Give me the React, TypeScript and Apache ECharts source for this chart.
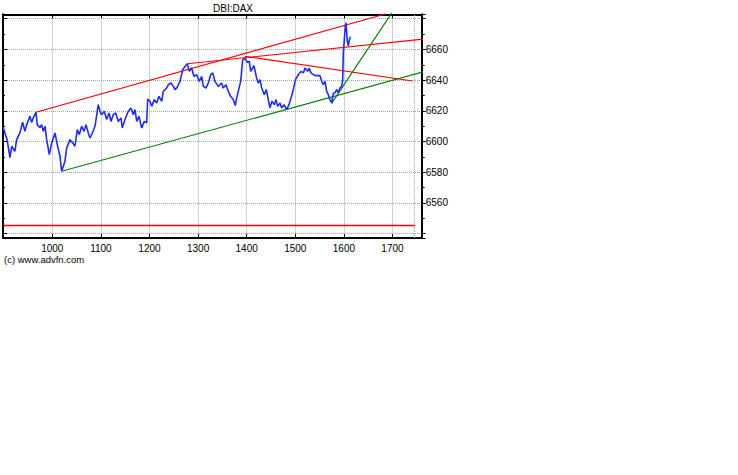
import React, { useEffect, useRef } from "react";
import * as echarts from "echarts";

const priceX = [
  899, 907, 913, 916.5, 923, 926.7, 933.5, 939, 943.7, 947.3, 954, 957.6, 961, 966.5, 969, 974.7, 978, 981.5, 985, 988.5,
  993.8, 998.8, 1005.6, 1010.3, 1015.8, 1019.3, 1026.1, 1029.6, 1036.4, 1042, 1046.7, 1051.4, 1055.6, 1060.5, 1065.2,
  1069.3, 1074, 1077.6, 1083, 1087.9, 1094.6, 1098.1, 1101.6, 1107, 1111.9, 1116.7, 1120.8, 1125.5, 1130.5, 1135.8,
  1141.4, 1144, 1149.6, 1156.4, 1161.9, 1166.7, 1170.2, 1173.7, 1178.4, 1184, 1189.3, 1194.2, 1196.3, 1201, 1204.5,
  1209.9, 1214.8, 1219.5, 1225.1, 1228.4, 1235.4, 1238.7, 1244.2, 1249, 1252.5, 1256.6, 1262.8, 1268.3, 1273.1, 1277.8,
  1281.9, 1286.8, 1291.6, 1297.1, 1302.5, 1307.4, 1310.7, 1316.3, 1321, 1325.9, 1330, 1334.8, 1341.6, 1348.6, 1351.8,
  1357.4, 1362.1, 1367.1, 1372.4, 1376.5, 1379.4, 1382.7, 1387.6, 1391.8, 1396.5, 1401.2, 1405.3, 1408.2, 1412.3, 1415,
  1420.2, 1423.9, 1427.4, 1430.9, 1436.2, 1440.3, 1444.4, 1447.9, 1452, 1456.8, 1460.3, 1463.8, 1468.5, 1472, 1476.8,
  1482.3, 1487, 1491.2, 1495.9, 1500.8, 1506.2, 1511.7, 1516.5, 1520, 1525.5, 1528.2, 1532.3, 1540.6, 1550.8, 1554.3,
  1557.6, 1561.1, 1564.6, 1567.9, 1571.4, 1575, 1578.2, 1581.7, 1585.2, 1588.5, 1592, 1595.5, 1597.6, 1598.8, 1600.9,
  1602.3, 1604.4, 1605.8, 1607.1, 1609.1, 1611.2, 1613.6,
];
const priceY = [
  6609, 6601.2, 6589.5, 6596.9, 6593.6, 6601.2, 6605.8, 6612.5, 6606.6, 6611, 6616.4, 6612.3, 6615.6, 6619, 6611, 6609,
  6611, 6606.6, 6610, 6601.2, 6591.5, 6599.1, 6605.6, 6598, 6590.4, 6580.6, 6587.1, 6595.8, 6601.2, 6599.1, 6596.9,
  6607.7, 6604.5, 6609.9, 6606.6, 6611, 6605.6, 6602.3, 6606, 6609.9, 6624, 6619.7, 6617.5, 6619.7, 6614.3, 6618.6,
  6613.1, 6617.5, 6618.6, 6613.1, 6615.4, 6608.8, 6614.3, 6619.7, 6621.9, 6617.5, 6620.8, 6613.1, 6616.4, 6608.8,
  6613.1, 6612.1, 6627.7, 6626.2, 6622.9, 6627.3, 6625.1, 6629.4, 6626.2, 6632.7, 6634.9, 6637, 6638.1, 6635.9, 6633.8,
  6635.1, 6639.2, 6646.8, 6648.9, 6650.7, 6645.7, 6647.9, 6642.4, 6643.5, 6639.2, 6642.4, 6635.9, 6634.9, 6638.1,
  6643.5, 6644.7, 6639.2, 6635.9, 6638.1, 6634.9, 6637, 6632.7, 6629.4, 6627.3, 6623.4, 6628.4, 6632.7, 6639.2, 6653.3,
  6654.2, 6651.6, 6652.2, 6645.7, 6647.9, 6649.4, 6641.6, 6638.1, 6640.3, 6634.9, 6630.5, 6633.8, 6627.3, 6621.9,
  6626.2, 6624, 6627.3, 6622.9, 6625.1, 6621.9, 6624, 6620.8, 6624, 6628.4, 6633.8, 6640.7, 6643.5, 6645.7, 6644.7,
  6647.9, 6645.7, 6647.9, 6644.7, 6642.9, 6642.9, 6639.2, 6637, 6639.2, 6632.7, 6630.5, 6627.3, 6625, 6631.6, 6631.6,
  6633.8, 6631.6, 6634.9, 6635.9, 6640.3, 6657.7, 6666.3, 6672.8, 6677.4, 6670.7, 6665.2, 6662.4, 6666.3, 6668.3,
];

// Trend lines: [x1, x2] and [y1, y2]
const upperRedX = [966.5, 1685];
const upperRedY = [6619, 6683.1];
const midRedX = [1278, 1765];
const midRedY = [6650.7, 6666.8];
const fallRedX = [1396.5, 1741.4];
const fallRedY = [6655.5, 6639.4];
const lowGreenX = [1019.3, 1773];
const lowGreenY = [6580.6, 6646.3];
const steepGreenX = [1575, 1698.3];
const steepGreenY = [6625, 6683.7];
const flatRedX = [899.3, 1746.3];
const flatRedY = [6545.2, 6545.2];

const xTickLabels = [1000, 1100, 1200, 1300, 1400, 1500, 1600, 1700];
const yTickLabels = [6560, 6580, 6600, 6620, 6640, 6660];
const extraGridX = 1744.9;

const X_MIN = 898.6;
const X_MAX = 1760.1;
const Y_MIN = 6537.1;
const Y_MAX = 6682.9;

const zip = (xs: number[], ys: number[]) => xs.map((x, i) => [x, ys[i]]);

const FONT = "Liberation Sans, Arial, sans-serif";
const GRID_COLOR = "#9aa8a8";

export default function App() {
  const ref = useRef<HTMLDivElement>(null);
  useEffect(() => {
    const chart = echarts.init(ref.current!, null, { renderer: "svg" });
    const lineSeries = (name: string, xs: number[], ys: number[], color: string, width = 1.1) => ({
      name,
      type: "line",
      data: zip(xs, ys),
      showSymbol: false,
      symbol: "none",
      clip: false,
      silent: true,
      lineStyle: { color, width },
      z: 3,
    });
    chart.setOption({
      animation: false,
      backgroundColor: "#ffffff",
      textStyle: { fontFamily: FONT },
      grid: { left: 3, top: 14.3, right: 316.3, bottom: 237, containLabel: false },
      graphic: [
        { type: "text", left: 213, top: 3, style: { text: "DBI:DAX", font: `10px ${FONT}`, fill: "#000" } },
        { type: "text", left: 4, top: 254, style: { text: "(c) www.advfn.com", font: `9.5px ${FONT}`, fill: "#000" } },
      ],
      xAxis: [
        {
          type: "value",
          position: "bottom",
          min: X_MIN,
          max: X_MAX,
          splitNumber: 8,
          axisLine: { show: true, lineStyle: { color: "#000", width: 2 } },
          axisTick: { show: true, inside: true, length: 4, lineStyle: { color: "#000" } },
          axisLabel: {
            margin: 5,
            fontSize: 10,
            color: "#000",
            fontFamily: FONT,
            formatter: (v: number) => (xTickLabels.includes(Math.round(v * 1000) / 1000) ? String(v) : ""),
          },
          splitLine: { show: true, lineStyle: { color: GRID_COLOR, type: "dotted", width: 1 } },
        },
        {
          type: "value",
          position: "top",
          min: X_MIN,
          max: X_MAX,
          splitNumber: 8,
          axisLine: { show: true, lineStyle: { color: "#000", width: 2 } },
          axisTick: { show: true, inside: true, length: 4, lineStyle: { color: "#000" } },
          axisLabel: { show: false },
          splitLine: { show: false },
        },
      ],
      yAxis: [
        {
          type: "value",
          position: "right",
          min: Y_MIN,
          max: Y_MAX,
          splitNumber: 7,
          axisLine: { show: true, lineStyle: { color: "#000", width: 2 } },
          axisTick: { show: true, inside: false, length: 4, lineStyle: { color: "#000" } },
          minorTick: { show: true, splitNumber: 2, length: 3, lineStyle: { color: "#000" } },
          axisLabel: {
            margin: 4,
            fontSize: 10,
            color: "#000",
            fontFamily: FONT,
            formatter: (v: number) => (yTickLabels.includes(Math.round(v * 1000) / 1000) ? String(v) : ""),
          },
          splitLine: { show: true, lineStyle: { color: GRID_COLOR, type: "dotted", width: 1 } },
        },
        {
          type: "value",
          position: "left",
          min: Y_MIN,
          max: Y_MAX,
          splitNumber: 7,
          axisLine: { show: true, lineStyle: { color: "#000", width: 2 } },
          axisTick: { show: true, inside: true, length: 4, lineStyle: { color: "#000" } },
          minorTick: { show: true, splitNumber: 2, length: 2, lineStyle: { color: "#000" } },
          axisLabel: { show: false },
          splitLine: { show: false },
        },
      ],
      series: [
        {
          name: "DBI:DAX",
          type: "line",
          data: zip(priceX, priceY),
          showSymbol: false,
          symbol: "none",
          silent: true,
          lineStyle: { color: "#1f2bff", width: 1.6 },
          z: 4,
          markLine: {
            silent: true,
            symbol: "none",
            label: { show: false },
            lineStyle: { color: GRID_COLOR, type: "dotted", width: 1 },
            data: [{ xAxis: extraGridX }],
            z: 1,
          },
        },
        lineSeries("upperRed", upperRedX, upperRedY, "#ff0000"),
        lineSeries("midRed", midRedX, midRedY, "#ff0000"),
        lineSeries("fallRed", fallRedX, fallRedY, "#ff0000"),
        lineSeries("flatRed", flatRedX, flatRedY, "#ff0000", 1.6),
        lineSeries("lowGreen", lowGreenX, lowGreenY, "#008000"),
        lineSeries("steepGreen", steepGreenX, steepGreenY, "#008000"),
      ],
    });
    return () => chart.dispose();
  }, []);
  return (
    <div
      ref={ref}
      style={{ position: "absolute", left: 0, top: 0, width: 738, height: 475, background: "#fff" }}
    />
  );
}
